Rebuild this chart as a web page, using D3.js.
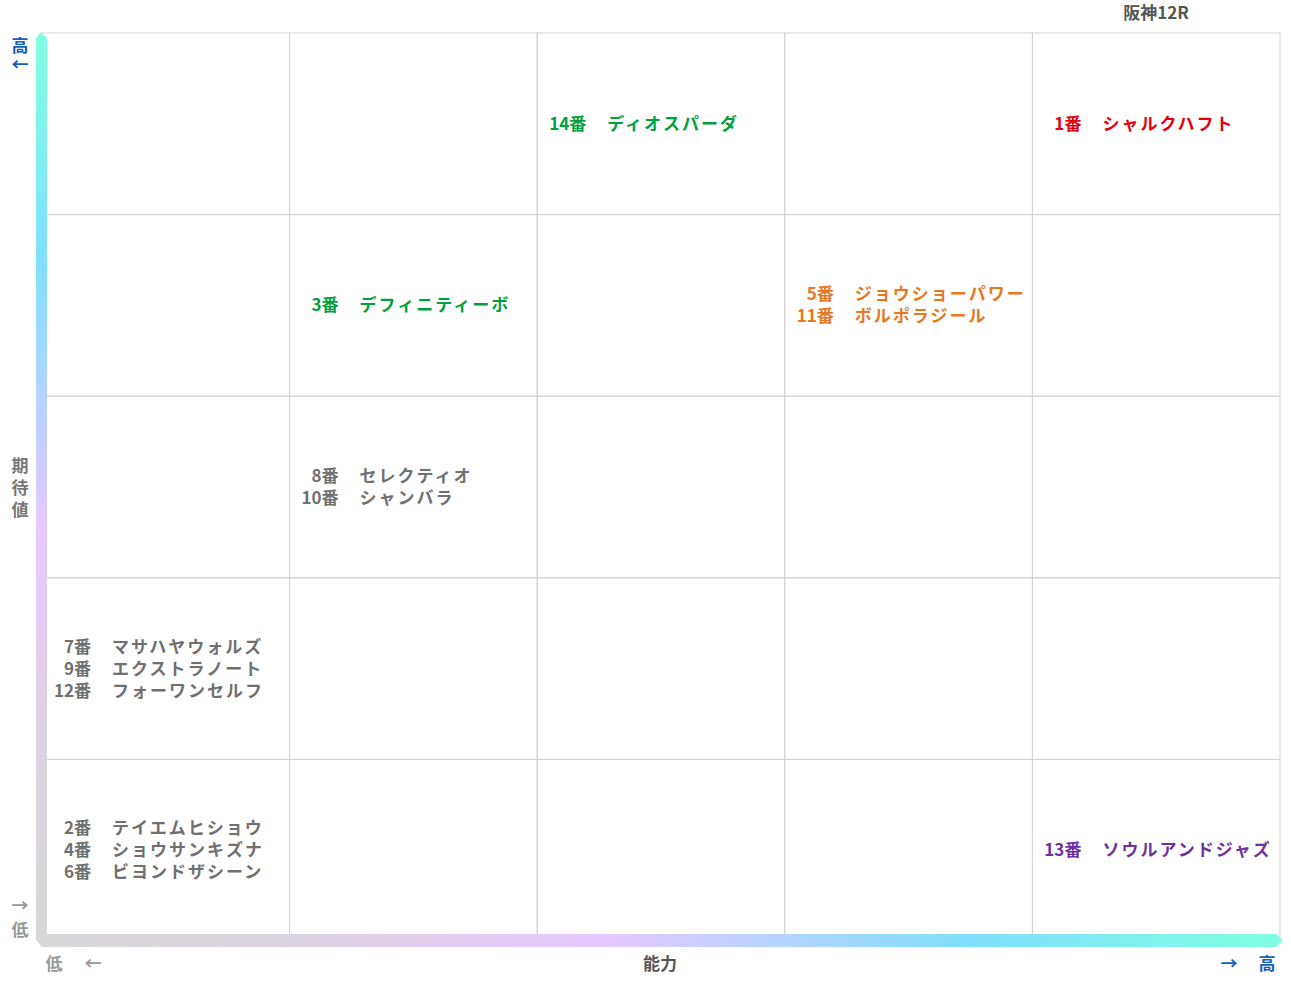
<!DOCTYPE html><html><head><meta charset="utf-8">
<script src="https://cdn.jsdelivr.net/npm/d3@7"></script>
<style>body{margin:0;background:#fff}text{font-family:"Noto Sans CJK JP";font-weight:bold}</style></head><body>
<svg id="c" width="1291" height="983"></svg>
<script>
const numbers=["14","1","3","5","11","8","10","7","9","12","2","4","6","13"];
const names=["ディオスパーダ","シャルクハフト","デフィニティーボ","ジョウショーパワー","ボルポラジール","セレクティオ","シャンバラ","マサハヤウォルズ","エクストラノート","フォーワンセルフ","テイエムヒショウ","ショウサンキズナ","ビヨンドザシーン","ソウルアンドジャズ"];
const ability=[3,5,2,4,4,2,2,1,1,1,1,1,1,5];
const expect=[5,5,4,4,4,3,3,2,2,2,1,1,1,1];
const colors=["#00a040","#e8000b","#00a040","#e87722","#e87722","#707070","#707070","#707070","#707070","#707070","#707070","#707070","#707070","#7030a0"];
const levels=[1,2,3,4,5];
const svg=d3.select("#c");
const x=d3.scaleBand().domain(levels).range([42,1280]);
const y=d3.scaleBand().domain(levels).range([941,33]);
const g=svg.append("g");
levels.forEach(a=>levels.forEach(e=>g.append("rect").attr("x",x(a)).attr("y",y(e)).attr("width",x.bandwidth()).attr("height",y.bandwidth()).attr("fill","none").attr("stroke","#d4d4d4")));
const defs=svg.append("defs");
const stops=[[0,"#d8d8d8"],[0.2,"#dcd4e0"],[0.45,"#e8c8ff"],[0.75,"#80e0ff"],[1,"#80ffe0"]];
const gv=defs.append("linearGradient").attr("id","gv").attr("x1",0).attr("y1",1).attr("x2",0).attr("y2",0);
stops.forEach(s=>gv.append("stop").attr("offset",s[0]).attr("stop-color",s[1]));
const gh=defs.append("linearGradient").attr("id","gh").attr("x1",0).attr("y1",0).attr("x2",1).attr("y2",0);
stops.forEach(s=>gh.append("stop").attr("offset",s[0]).attr("stop-color",s[1]));
svg.append("polygon").attr("points","36,940 36,38 41,32 47,38 47,934").attr("fill","url(#gv)");
svg.append("polygon").attr("points","36,940 47,934 1276,934 1283,940 1276,947 42,947").attr("fill","url(#gh)");
const T=(t,xx,yy,c,a="middle",s=17)=>svg.append("text").attr("x",xx).attr("y",yy).attr("fill",c).attr("font-size",s).attr("text-anchor",a).text(t);
T("阪神12R",1156,19,"#555");
T("高",20,52,"#1060c0");T("←",20,71,"#1060c0");
T("期",20,472,"#777");T("待",20,494,"#777");T("値",20,516,"#777");
T("→",20,912,"#999");T("低",20,936,"#999");
T("低",54,970,"#999");T("←",93,970,"#999");T("能力",660,970,"#555");
T("→",1229,970,"#1060c0");T("高",1267,970,"#1060c0");
const groups=d3.groups(d3.range(numbers.length),i=>ability[i]+"_"+expect[i]);
groups.forEach(([k,idx])=>{
  const a=ability[idx[0]],e=expect[idx[0]];
  const cy=y(e)+y.bandwidth()/2;
  idx.forEach((i,j)=>{
    const yy=cy-(idx.length-1)*11+j*22+6;
    const t=svg.append("text").attr("font-size",17).attr("fill",colors[i]);
    t.append("tspan").attr("x",x(a)+49).attr("y",yy).attr("text-anchor","end").text(numbers[i]+"番");
    t.append("tspan").attr("x",x(a)+70).attr("y",yy).attr("text-anchor","start").attr("letter-spacing",2).text(names[i]);
  });
});
</script></body></html>
